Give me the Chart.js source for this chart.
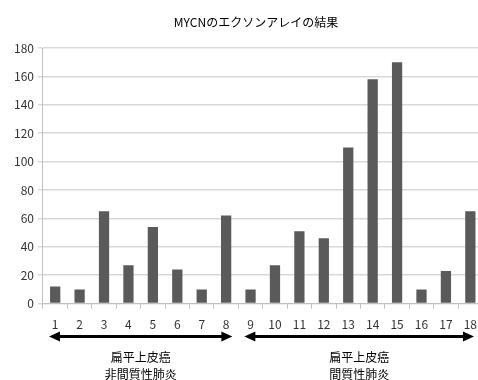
<!DOCTYPE html>
<html>
<head>
<meta charset="utf-8">
<script src="https://cdn.jsdelivr.net/npm/chart.js@4/dist/chart.umd.min.js"></script>
<style>
  body { margin: 0; background: #fff; overflow: hidden; }
  #wrap { width: 486px; height: 380px; position: relative; }
</style>
</head>
<body>
<div id="wrap"><canvas id="myChart"></canvas></div>
<script>
const titleText = "MYCNのエクソンアレイの結果";
const labels = ["1","2","3","4","5","6","7","8","9","10","11","12","13","14","15","16","17","18"];
const values = [12, 10, 65, 27, 54, 24, 10, 62, 10, 27, 51, 46, 110, 158, 170, 10, 23, 65];
const yTicks = [0, 20, 40, 60, 80, 100, 120, 140, 160, 180];
// groups: first / last category index + two text lines
const groups = [
  { from: 0, to: 7, lines: ["扁平上皮癌", "非間質性肺炎"] },
  { from: 8, to: 17, lines: ["扁平上皮癌", "間質性肺炎"] },
];

const font = "'Noto Sans CJK JP', 'Noto Sans', sans-serif";

// title, arrows + group labels under the x axis
const extras = {
  id: "extras",
  afterDraw(chart) {
    const ctx = chart.ctx;
    const x = chart.scales.x;
    const area = chart.chartArea;
    const half = (x.getPixelForValue(1) - x.getPixelForValue(0)) / 2;
    ctx.save();
    ctx.fillStyle = "#000";
    ctx.font = "12px " + font;
    ctx.textAlign = "center";
    ctx.textBaseline = "middle";
    ctx.fillText(titleText, 256, 22);

    groups.forEach((g) => {
      const x1 = x.getPixelForValue(g.from) - half + 6;
      const x2 = Math.min(x.getPixelForValue(g.to) + half - 6, 474);
      const y = area.bottom + 33;
      ctx.strokeStyle = "#000";
      ctx.lineWidth = 3;
      ctx.beginPath();
      ctx.moveTo(x1 + 8, y);
      ctx.lineTo(x2 - 8, y);
      ctx.stroke();
      ctx.beginPath();
      ctx.moveTo(x1, y);
      ctx.lineTo(x1 + 11, y - 5);
      ctx.lineTo(x1 + 11, y + 5);
      ctx.closePath();
      ctx.moveTo(x2, y);
      ctx.lineTo(x2 - 11, y - 5);
      ctx.lineTo(x2 - 11, y + 5);
      ctx.closePath();
      ctx.fillStyle = "#000";
      ctx.fill();
      const cx = (x1 + x2) / 2;
      ctx.font = "12px " + font;
      ctx.fillText(g.lines[0], cx, area.bottom + 54);
      ctx.fillText(g.lines[1], cx, area.bottom + 71);
    });
    ctx.restore();
  },
};

const chart = new Chart(document.querySelector("#myChart"), {
  type: "bar",
  data: {
    labels: labels,
    datasets: [
      {
        data: values,
        backgroundColor: "#5a5a5a",
        barPercentage: 0.42,
        categoryPercentage: 1,
      },
    ],
  },
  options: {
    responsive: true,
    maintainAspectRatio: false,
    animation: false,
    layout: { padding: { top: 48, right: 0, bottom: 39, left: 10 } },
    plugins: {
      legend: { display: false },
      title: { display: false },
      tooltip: { enabled: false },
    },
    scales: {
      x: {
        grid: {
          display: true,
          drawOnChartArea: false,
          tickLength: 5,
          color: "#bfbfbf",
        },
        border: { color: "#bfbfbf" },
        ticks: { color: "#333", font: { family: font, size: 12 }, padding: 9, maxRotation: 0, autoSkip: false },
      },
      y: {
        min: 0,
        max: 180,
        afterBuildTicks(axis) {
          axis.ticks = yTicks.map((v) => ({ value: v }));
        },
        grid: { color: "#d9d9d9", lineWidth: 1.5, tickLength: 5 },
        border: { color: "#bfbfbf" },
        ticks: { color: "#333", font: { family: font, size: 12 }, padding: 4 },
      },
    },
  },
  plugins: [extras],
});
</script>
</body>
</html>
